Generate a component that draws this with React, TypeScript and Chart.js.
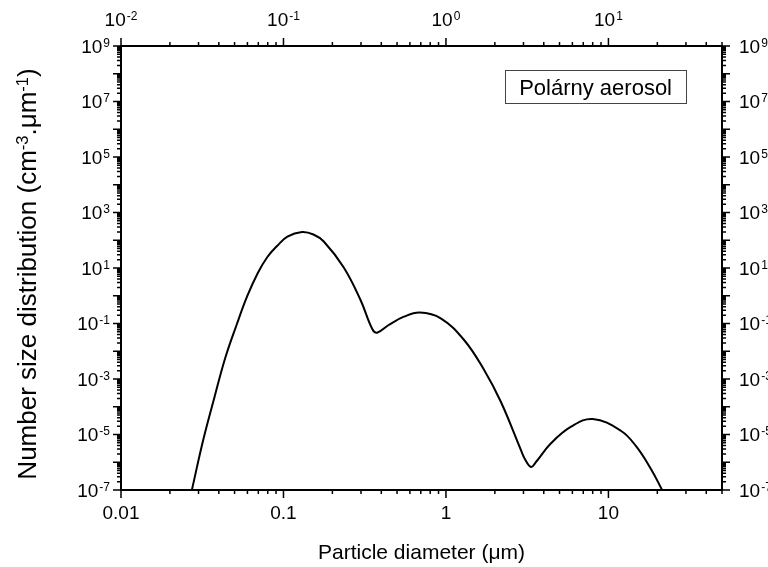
import { useEffect, useRef } from 'react';
import { Chart, registerables } from 'chart.js';

Chart.register(...registerables);

const FONT = 'Arial, "Liberation Sans", Helvetica, sans-serif';

// Particle diameter (µm) and number size distribution (cm^-3.µm^-1)
const diameters = [
  0.0273, 0.03206, 0.0375, 0.0438, 0.0517, 0.0599, 0.0695, 0.0796, 0.0913, 0.1057,
  0.130, 0.1529, 0.177, 0.235, 0.298, 0.352, 0.377, 0.444, 0.551, 0.690,
  0.929, 1.293, 1.718, 2.18, 2.894, 3.06, 3.336, 3.58, 4.43, 5.89,
  8.01, 11.98, 14.83, 18.34, 21.4,
];
const numberDist = [
  1e-7, 6.34e-6, 2.07e-4, 5.71e-3, 0.096, 0.98, 6.6, 24.9, 62.1, 136,
  198, 161, 90, 10.4, 0.703, 0.0634, 0.0466, 0.0883, 0.176, 0.249,
  0.154, 0.0254, 2.11e-3, 1.48e-4, 2.76e-6, 1.31e-6, 6.74e-7, 1.02e-6, 4.82e-6, 1.91e-5,
  3.62e-5, 1.34e-5, 3.7e-6, 5.48e-7, 1e-7,
];

const X_MIN = 0.01;
const X_MAX = 50;
const Y_MIN = 1e-7;
const Y_MAX = 1e9;

const bottomTickLabels = ['0.01', '0.1', '1', '10'];
const topTickExponents = ['-2', '-1', '0', '1'];
const yTickExponents = ['9', '7', '5', '3', '1', '-1', '-3', '-5', '-7'];

const seriesLabel = 'Polárny aerosol';
const xTitle = 'Particle diameter (μm)';
const yTitleParts = ['Number size distribution (cm', '-3', '.μm', '-1', ')'];

function logTicks(min: number, max: number) {
  const out: { value: number }[] = [];
  const e0 = Math.floor(Math.log10(min));
  const e1 = Math.ceil(Math.log10(max));
  for (let e = e0; e <= e1; e++) {
    for (let m = 1; m <= 9; m++) {
      const v = Number((m * Math.pow(10, e)).toPrecision(12));
      if (v >= min * (1 - 1e-9) && v <= max * (1 + 1e-9)) out.push({ value: v });
    }
  }
  return out;
}

function isMajor(v: number) {
  const l = Math.log10(v);
  return Math.abs(l - Math.round(l)) < 1e-9;
}

const BASE_SIZE = 19;
const SUP_SIZE = 12;
const YTITLE_SIZE = 26;
const YTITLE_SUP = 16.5;
const LEGEND_SIZE = 22;

function drawPow(ctx: CanvasRenderingContext2D, exp: string, x: number, baseline: number, align: 'left' | 'right' | 'center') {
  ctx.font = `${BASE_SIZE}px ${FONT}`;
  const wb = ctx.measureText('10').width;
  ctx.font = `${SUP_SIZE}px ${FONT}`;
  const we = ctx.measureText(exp).width;
  const total = wb + 1 + we;
  const x0 = align === 'left' ? x : align === 'right' ? x - total : x - total / 2;
  ctx.textAlign = 'left';
  ctx.textBaseline = 'alphabetic';
  ctx.font = `${BASE_SIZE}px ${FONT}`;
  ctx.fillText('10', x0, baseline);
  ctx.font = `${SUP_SIZE}px ${FONT}`;
  ctx.fillText(exp, x0 + wb + 1, baseline - 6);
}

const decorPlugin = {
  id: 'decor',
  afterDraw(chart: any) {
    const ctx: CanvasRenderingContext2D = chart.ctx;
    const { left, right, top, bottom } = chart.chartArea;
    const xs = chart.scales.x;
    const xt = chart.scales.x2;
    const ys = chart.scales.y;
    const yr = chart.scales.y2;
    ctx.save();
    ctx.strokeStyle = '#000';
    ctx.fillStyle = '#000';
    ctx.lineWidth = 1.5;
    ctx.beginPath();
    for (const t of xs.ticks) {
      const px = xs.getPixelForValue(t.value);
      const L = isMajor(t.value) ? 8 : 4;
      ctx.moveTo(px, bottom);
      ctx.lineTo(px, bottom + L);
    }
    for (const t of xt.ticks) {
      const px = xt.getPixelForValue(t.value);
      const L = isMajor(t.value) ? 8 : 4;
      ctx.moveTo(px, top);
      ctx.lineTo(px, top - L);
    }
    for (const t of ys.ticks) {
      const py = ys.getPixelForValue(t.value);
      const L = isMajor(t.value) ? 8 : 4;
      ctx.moveTo(left, py);
      ctx.lineTo(left - L, py);
    }
    for (const t of yr.ticks) {
      const py = yr.getPixelForValue(t.value);
      const L = isMajor(t.value) ? 8 : 4;
      ctx.moveTo(right, py);
      ctx.lineTo(right + L, py);
    }
    ctx.stroke();

    // top labels
    for (const e of topTickExponents) {
      const px = xt.getPixelForValue(Math.pow(10, Number(e)));
      drawPow(ctx, e, px, 26, 'center');
    }
    // left & right labels
    for (const e of yTickExponents) {
      const v = Math.pow(10, Number(e));
      const pyL = ys.getPixelForValue(v);
      drawPow(ctx, e, 110, pyL + 6.8, 'right');
      const pyR = yr.getPixelForValue(v);
      drawPow(ctx, e, 739, pyR + 6.8, 'left');
    }

    // y title with superscripts
    ctx.save();
    ctx.translate(27, 274);
    ctx.rotate(-Math.PI / 2);
    const sizes = [YTITLE_SIZE, YTITLE_SUP, YTITLE_SIZE, YTITLE_SUP, YTITLE_SIZE];
    let total = 0;
    const widths: number[] = [];
    yTitleParts.forEach((p, i) => {
      ctx.font = `${sizes[i]}px ${FONT}`;
      const w = ctx.measureText(p).width;
      widths.push(w);
      total += w;
    });
    let cx = -total / 2;
    ctx.textAlign = 'left';
    ctx.textBaseline = 'alphabetic';
    const baseY = YTITLE_SIZE * 0.36;
    yTitleParts.forEach((p, i) => {
      ctx.font = `${sizes[i]}px ${FONT}`;
      ctx.fillText(p, cx, sizes[i] === YTITLE_SIZE ? baseY : baseY - 8.5);
      cx += widths[i];
    });
    ctx.restore();

    // legend box
    ctx.font = `${LEGEND_SIZE}px ${FONT}`;
    const tw = ctx.measureText(seriesLabel).width;
    const bx1 = 686;
    const bx0 = bx1 - tw - 28;
    const by0 = 70;
    const by1 = 103;
    ctx.lineWidth = 1;
    ctx.strokeStyle = '#444';
    ctx.strokeRect(Math.round(bx0) + 0.5, by0 + 0.5, Math.round(bx1 - bx0), by1 - by0);
    ctx.fillStyle = '#000';
    ctx.textAlign = 'left';
    ctx.textBaseline = 'alphabetic';
    ctx.fillText(seriesLabel, bx0 + 14, 94.5);
    ctx.restore();
  },
};

export default function App() {
  const ref = useRef<HTMLCanvasElement | null>(null);
  useEffect(() => {
    document.body.style.margin = '0';
    const canvas = ref.current;
    if (!canvas) return;
    const border = { display: true, color: '#000', width: 2 };
    const grid = { display: true, drawOnChartArea: false, drawTicks: false };
    const chart = new Chart(canvas, {
      type: 'line',
      data: {
        datasets: [
          {
            label: seriesLabel,
            data: diameters.map((d, i) => ({ x: d, y: numberDist[i] })),
            borderColor: '#000',
            borderWidth: 2,
            pointRadius: 0,
            fill: false,
            tension: 0.4,
            xAxisID: 'x',
            yAxisID: 'y',
          },
        ],
      },
      options: {
        animation: false,
        responsive: false,
        devicePixelRatio: 1,
        layout: { padding: 0 },
        plugins: { legend: { display: false }, tooltip: { enabled: false } },
        scales: {
          x: {
            type: 'logarithmic',
            position: 'bottom',
            min: X_MIN,
            max: X_MAX,
            border,
            grid,
            afterBuildTicks: (s: any) => { s.ticks = logTicks(X_MIN, X_MAX); },
            afterFit: (s: any) => { s.height = 77; },
            ticks: {
              autoSkip: false,
              maxRotation: 0,
              minRotation: 0,
              padding: 12,
              color: '#000',
              font: { family: FONT, size: BASE_SIZE },
              callback: (v: any) => {
                const n = Number(v);
                if (!isMajor(n)) return '';
                const idx = Math.round(Math.log10(n)) + 2;
                return bottomTickLabels[idx] ?? '';
              },
            },
            title: {
              display: true,
              text: xTitle,
              color: '#000',
              font: { family: FONT, size: 21 },
              padding: { top: 0, bottom: 1 },
            },
          },
          x2: {
            type: 'logarithmic',
            position: 'top',
            min: X_MIN,
            max: X_MAX,
            border,
            grid,
            afterBuildTicks: (s: any) => { s.ticks = logTicks(X_MIN, X_MAX); },
            afterFit: (s: any) => { s.height = 46; },
            ticks: { display: false, autoSkip: false },
          },
          y: {
            type: 'logarithmic',
            position: 'left',
            min: Y_MIN,
            max: Y_MAX,
            border,
            grid,
            afterBuildTicks: (s: any) => { s.ticks = logTicks(Y_MIN, Y_MAX); },
            afterFit: (s: any) => { s.width = 121; },
            ticks: { display: false, autoSkip: false },
          },
          y2: {
            type: 'logarithmic',
            position: 'right',
            min: Y_MIN,
            max: Y_MAX,
            border,
            grid,
            afterBuildTicks: (s: any) => { s.ticks = logTicks(Y_MIN, Y_MAX); },
            afterFit: (s: any) => { s.width = 46; },
            ticks: { display: false, autoSkip: false },
          },
        },
      } as any,
      plugins: [decorPlugin],
    });
    return () => chart.destroy();
  }, []);
  return <canvas ref={ref} width={768} height={567} style={{ display: 'block' }} />;
}
